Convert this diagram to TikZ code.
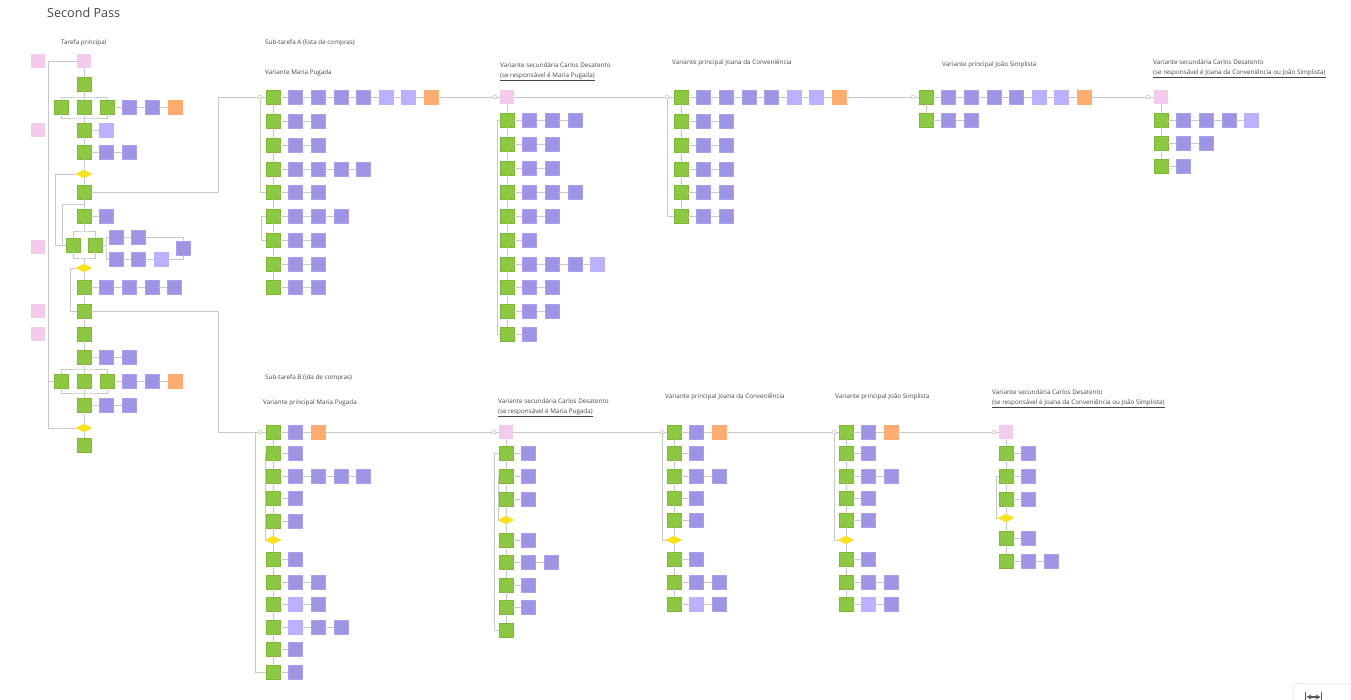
\documentclass[tikz,border=0pt]{standalone}
\usepackage{fontspec}
\setmainfont{Open Sans}
\usetikzlibrary{shapes.geometric}
\definecolor{cg}{RGB}{141,200,66}
\definecolor{cgd}{RGB}{125,185,55}
\definecolor{cp}{RGB}{158,148,228}
\definecolor{cpd}{RGB}{170,160,240}
\definecolor{cl}{RGB}{186,178,255}
\definecolor{co}{RGB}{255,172,112}
\definecolor{ck}{RGB}{244,202,238}
\definecolor{cy}{RGB}{246,226,30}
\definecolor{cline}{RGB}{200,200,200}
\definecolor{ctext}{RGB}{70,70,70}
\newcommand\myrow[4]{%
  \foreach \t [count=\i, remember=\i as \j (initially 0)] in {#4}{%
    \node[\t] (#1-\i) at ({#2+(\i-1)*22.6},#3) {};
    \ifnum\i>1 \draw[conn] (#1-\j) -- (#1-\i);\fi
  }%
}
\begin{document}
\begin{tikzpicture}[x=1pt,y=-1pt,
  bx/.style={rectangle,inner sep=0pt,minimum size=14pt,line width=0.5pt},
  gbx/.style={bx,fill=cg,draw=cgd},
  pbx/.style={bx,fill=cp,draw=cpd},
  lbx/.style={bx,fill=cl,draw=cl},
  obx/.style={bx,fill=co,draw=co},
  kbx/.style={bx,minimum size=13pt,fill=ck,draw=ck},
  dbx/.style={diamond,aspect=2,inner sep=0pt,minimum width=16pt,minimum height=8pt,fill=cy,draw=cy},
  mk/.style={circle,inner sep=0pt,minimum size=4pt,draw=gray!60,fill=white,line width=0.4pt},
  conn/.style={draw=cline,line width=0.6pt},
  lbl/.style={anchor=west,inner sep=0pt,text=ctext,font=\fontsize{6.3}{8}\selectfont},
  lbl2/.style={anchor=west,inner sep=0pt,text=ctext,align=left,font=\fontsize{6.3}{9.8}\selectfont}]
\useasboundingbox[fill=white] (0,0) rectangle (1351,700);

% ---------------- titles ----------------
\node[anchor=west,inner sep=0pt,text=ctext,font=\fontsize{12.6}{14}\selectfont] (title) at (47,13) {Second Pass};
\node[lbl] (tp) at (61,43) {Tarefa principal};
\node[lbl] (tsa) at (265,43) {Sub-tarefa A (lista de compras)};
\node[lbl] (ta1) at (265,73) {Variante Maria Pugada};
\node[lbl2] (ta2) at (500,72) {Variante secundária Carlos Desatento\\\underline{(se responsável é Maria Pugada)}};
\node[lbl] (ta3) at (672,63) {Variante principal Joana da Conveniência};
\node[lbl] (ta4) at (942,65) {Variante principal João Simplista};
\node[lbl2] (ta5) at (1153,69) {Variante secundária Carlos Desatento\\\underline{(se responsável é Joana da Conveniência ou João Simplista)}};
\node[lbl] (tsb) at (265,378) {Sub-tarefa B (ida de compras)};
\node[lbl] (tb1) at (263,403) {Variante principal Maria Pugada};
\node[lbl2] (tb2) at (498,408) {Variante secundária Carlos Desatento\\\underline{(se responsável é Maria Pugada)}};
\node[lbl] (tb3) at (665,397) {Variante principal Joana da Conveniência};
\node[lbl] (tb4) at (835,397) {Variante principal João Simplista};
\node[lbl2] (tb5) at (992,399) {Variante secundária Carlos Desatento\\\underline{(se responsável é Joana da Conveniência ou João Simplista)}};

% ---------------- main task ----------------
\foreach \yy [count=\n] in {61,130,247,311,334}{\node[kbx] (s\n) at (38,\yy) {};}
\node[kbx] (m1) at (84,61) {};
\myrow{m2}{84}{84}{gbx}
\node[gbx] (m3a) at (61,107) {};
\node[gbx] (m3b) at (84,107) {};
\myrow{m3}{107}{107}{gbx,pbx,pbx,obx}
\myrow{m4}{84}{130}{gbx,lbx}
\myrow{m5}{84}{152}{gbx,pbx,pbx}
\node[dbx] (md1) at (84,174) {};
\myrow{m6}{84}{192}{gbx}
\myrow{m7}{84}{216}{gbx,pbx}
\node[gbx] (m8a) at (73,245) {};
\node[gbx] (m8b) at (95,245) {};
\node[pbx] (q1) at (116,237) {};
\node[pbx] (q2) at (138,237) {};
\node[pbx] (q3) at (116,259) {};
\node[pbx] (q4) at (138,259) {};
\node[lbx] (q5) at (161,259) {};
\node[pbx] (q6) at (183,248) {};
\node[dbx] (md2) at (84,268) {};
\myrow{m9}{84}{287}{gbx,pbx,pbx,pbx,pbx}
\myrow{m10}{84}{311}{gbx}
\myrow{m11}{84}{334}{gbx}
\myrow{m12}{84}{357}{gbx,pbx,pbx}
\node[gbx] (m13a) at (61,381) {};
\node[gbx] (m13b) at (84,381) {};
\myrow{m13}{107}{381}{gbx,pbx,pbx,obx}
\myrow{m14}{84}{405}{gbx,pbx,pbx}
\node[dbx] (md3) at (84,428) {};
\myrow{m15}{84}{445}{gbx}

\coordinate (f1) at (84,97);
\coordinate (f2) at (84,118);
\coordinate (f3) at (84,231);
\coordinate (f4) at (84,258);
\coordinate (f5) at (106,245);
\coordinate (f6) at (84,369);
\coordinate (f7) at (84,393);
\draw[conn] (m1) -- (m2-1) -- (f1);
\draw[conn] (m3a.north) |- (f1) -| (m3-1.north);
\draw[conn] (f1) -- (m3b);
\draw[conn] (m3a.south) |- (f2) -| (m3-1.south);
\draw[conn] (m3b) -- (m4-1) -- (m5-1) -- (md1) -- (m6-1) -- (m7-1) -- (f3);
\draw[conn] (m8a.north) |- (f3) -| (m8b.north);
\draw[conn] (m8a.south) |- (f4) -| (m8b.south);
\draw[conn] (f4) -- (md2) -- (m9-1) -- (m10-1) -- (m11-1) -- (m12-1) -- (f6);
\draw[conn] (m8b) -- (f5);
\draw[conn] (q1) -| (f5) |- (q3);
\draw[conn] (q1) -- (q2);
\draw[conn] (q3) -- (q4) -- (q5);
\draw[conn] (q2) -| (q6);
\draw[conn] (q5) -| (q6);
\draw[conn] (m13a.north) |- (f6) -| (m13-1.north);
\draw[conn] (f6) -- (m13b);
\draw[conn] (m13a.south) |- (f7) -| (m13-1.south);
\draw[conn] (m13b) -- (m14-1) -- (md3) -- (m15-1);
% loops
\draw[conn] (md1) -- (55,174) |- (m8a);
\draw[conn] (84,204) -- (62,204) |- (m8a);
\draw[conn] (md2) -- (70,268) |- (m10-1);
\draw[conn] (m1) -- (48,61) |- (m13a);
\draw[conn] (48,381) |- (md3);

% ---------------- Sub-tarefa A ----------------
\node[mk] (ma1) at (260,97) {};
\myrow{a1r1}{273}{97}{gbx,pbx,pbx,pbx,pbx,lbx,lbx,obx}
\myrow{a1r2}{273}{121}{gbx,pbx,pbx}
\myrow{a1r3}{273}{145}{gbx,pbx,pbx}
\myrow{a1r4}{273}{169}{gbx,pbx,pbx,pbx,pbx}
\myrow{a1r5}{273}{192}{gbx,pbx,pbx}
\myrow{a1r6}{273}{216}{gbx,pbx,pbx,pbx}
\myrow{a1r7}{273}{240}{gbx,pbx,pbx}
\myrow{a1r8}{273}{264}{gbx,pbx,pbx}
\myrow{a1r9}{273}{287}{gbx,pbx,pbx}
\draw[conn] (a1r1-1) -- (a1r2-1) -- (a1r3-1) -- (a1r4-1) -- (a1r5-1) -- (a1r6-1) -- (a1r7-1) -- (a1r8-1) -- (a1r9-1);
\draw[conn] (ma1) |- (a1r5-1);
\draw[conn] (a1r6-1) -- (261,216) |- (a1r7-1);

\node[mk] (ma2) at (495,97) {};
\node[kbx] (a2k) at (507,97) {};
\myrow{a2r1}{507}{120}{gbx,pbx,pbx,pbx}
\myrow{a2r2}{507}{144}{gbx,pbx,pbx}
\myrow{a2r3}{507}{168}{gbx,pbx,pbx}
\myrow{a2r4}{507}{192}{gbx,pbx,pbx,pbx}
\myrow{a2r5}{507}{216}{gbx,pbx,pbx}
\myrow{a2r6}{507}{240}{gbx,pbx}
\myrow{a2r7}{507}{264}{gbx,pbx,pbx,pbx,lbx}
\myrow{a2r8}{507}{287}{gbx,pbx,pbx}
\myrow{a2r9}{507}{311}{gbx,pbx,pbx}
\myrow{a2r10}{507}{334}{gbx,pbx}
\draw[conn] (a2k) -- (a2r1-1) -- (a2r2-1) -- (a2r3-1) -- (a2r4-1) -- (a2r5-1) -- (a2r6-1) -- (a2r7-1) -- (a2r8-1) -- (a2r9-1) -- (a2r10-1);
\draw[conn] (a2r1-1) -- (497,120) |- (a2r10-1);

\node[mk] (ma3) at (667,97) {};
\myrow{a3r1}{681}{97}{gbx,pbx,pbx,pbx,pbx,lbx,lbx,obx}
\myrow{a3r2}{681}{121}{gbx,pbx,pbx}
\myrow{a3r3}{681}{145}{gbx,pbx,pbx}
\myrow{a3r4}{681}{169}{gbx,pbx,pbx}
\myrow{a3r5}{681}{192}{gbx,pbx,pbx}
\myrow{a3r6}{681}{216}{gbx,pbx,pbx}
\draw[conn] (a3r1-1) -- (a3r2-1) -- (a3r3-1) -- (a3r4-1) -- (a3r5-1) -- (a3r6-1);
\draw[conn] (ma3) |- (a3r6-1);

\node[mk] (ma4) at (913,97) {};
\myrow{a4r1}{926}{97}{gbx,pbx,pbx,pbx,pbx,lbx,lbx,obx}
\myrow{a4r2}{926}{120}{gbx,pbx,pbx}
\draw[conn] (a4r1-1) -- (a4r2-1);

\node[mk] (ma5) at (1148,97) {};
\node[kbx] (a5k) at (1161,97) {};
\myrow{a5r1}{1161}{120}{gbx,pbx,pbx,pbx,lbx}
\myrow{a5r2}{1161}{143}{gbx,pbx,pbx}
\myrow{a5r3}{1161}{166}{gbx,pbx}
\draw[conn] (a5k) -- (a5r1-1) -- (a5r2-1) -- (a5r3-1);

\draw[conn] (m6-1) -- (218,192) |- (ma1);
\draw[conn] (ma1) -- (a1r1-1);
\draw[conn] (a1r1-8) -- (ma2) -- (a2k) -- (ma3) -- (a3r1-1);
\draw[conn] (a3r1-8) -- (ma4) -- (a4r1-1);
\draw[conn] (a4r1-8) -- (ma5) -- (a5k);

% ---------------- Sub-tarefa B ----------------
\node[mk] (mb1) at (260,432) {};
\myrow{b1r1}{273}{432}{gbx,pbx,obx}
\myrow{b1r2}{273}{453}{gbx,pbx}
\myrow{b1r3}{273}{476}{gbx,pbx,pbx,pbx,pbx}
\myrow{b1r4}{273}{498}{gbx,pbx}
\myrow{b1r5}{273}{521}{gbx,pbx}
\node[dbx] (bd1) at (273,540) {};
\myrow{b1r6}{273}{559}{gbx,pbx}
\myrow{b1r7}{273}{582}{gbx,pbx,pbx}
\myrow{b1r8}{273}{604}{gbx,lbx,pbx}
\myrow{b1r9}{273}{627}{gbx,lbx,pbx,pbx}
\myrow{b1r10}{273}{649}{gbx,pbx}
\myrow{b1r11}{273}{672}{gbx,pbx}
\draw[conn] (b1r1-1) -- (b1r2-1) -- (b1r3-1) -- (b1r4-1) -- (b1r5-1) -- (bd1) -- (b1r6-1) -- (b1r7-1) -- (b1r8-1) -- (b1r9-1) -- (b1r10-1) -- (b1r11-1);
\draw[conn] (mb1) -- (255,432) |- (b1r11-1);
\draw[conn] (b1r2-1) -- (265,453) |- (bd1);

\node[mk] (mb2) at (494,432) {};
\node[kbx] (b2k) at (506,432) {};
\myrow{b2r1}{506}{453}{gbx,pbx}
\myrow{b2r2}{506}{476}{gbx,pbx}
\myrow{b2r3}{506}{499}{gbx,pbx}
\node[dbx] (bd2) at (506,520) {};
\myrow{b2r4}{506}{540}{gbx,pbx}
\myrow{b2r5}{506}{562}{gbx,pbx,pbx}
\myrow{b2r6}{506}{585}{gbx,pbx}
\myrow{b2r7}{506}{607}{gbx,pbx}
\myrow{b2r8}{506}{630}{gbx}
\draw[conn] (b2k) -- (b2r1-1) -- (b2r2-1) -- (b2r3-1) -- (bd2) -- (b2r4-1) -- (b2r5-1) -- (b2r6-1) -- (b2r7-1) -- (b2r8-1);
\draw[conn] (b2r1-1) -- (494,453) |- (b2r8-1);
\draw[conn] (b2r2-1) -- (498,476) |- (bd2);

\node[mk] (mb3) at (662,432) {};
\myrow{b3r1}{674}{432}{gbx,pbx,obx}
\myrow{b3r2}{674}{453}{gbx,pbx}
\myrow{b3r3}{674}{476}{gbx,pbx,pbx}
\myrow{b3r4}{674}{498}{gbx,pbx}
\myrow{b3r5}{674}{520}{gbx,pbx}
\node[dbx] (bd3) at (674,540) {};
\myrow{b3r6}{674}{559}{gbx,pbx}
\myrow{b3r7}{674}{582}{gbx,pbx,pbx}
\myrow{b3r8}{674}{604}{gbx,lbx,pbx}
\draw[conn] (b3r1-1) -- (b3r2-1) -- (b3r3-1) -- (b3r4-1) -- (b3r5-1) -- (bd3) -- (b3r6-1) -- (b3r7-1) -- (b3r8-1);
\draw[conn] (mb3) |- (bd3);

\node[mk] (mb4) at (834,432) {};
\myrow{b4r1}{846}{432}{gbx,pbx,obx}
\myrow{b4r2}{846}{453}{gbx,pbx}
\myrow{b4r3}{846}{476}{gbx,pbx,pbx}
\myrow{b4r4}{846}{498}{gbx,pbx}
\myrow{b4r5}{846}{520}{gbx,pbx}
\node[dbx] (bd4) at (846,540) {};
\myrow{b4r6}{846}{559}{gbx,pbx}
\myrow{b4r7}{846}{582}{gbx,pbx,pbx}
\myrow{b4r8}{846}{604}{gbx,lbx,pbx}
\draw[conn] (b4r1-1) -- (b4r2-1) -- (b4r3-1) -- (b4r4-1) -- (b4r5-1) -- (bd4) -- (b4r6-1) -- (b4r7-1) -- (b4r8-1);
\draw[conn] (mb4) |- (bd4);

\node[mk] (mb5) at (994,432) {};
\node[kbx] (b5k) at (1006,432) {};
\myrow{b5r1}{1006}{453}{gbx,pbx}
\myrow{b5r2}{1006}{476}{gbx,pbx}
\myrow{b5r3}{1006}{499}{gbx,pbx}
\node[dbx] (bd5) at (1006,518) {};
\myrow{b5r4}{1006}{538}{gbx,pbx}
\myrow{b5r5}{1006}{561}{gbx,pbx,pbx}
\draw[conn] (b5k) -- (b5r1-1) -- (b5r2-1) -- (b5r3-1) -- (bd5) -- (b5r4-1) -- (b5r5-1);
\draw[conn] (b5r2-1) -- (996,476) |- (bd5);

\draw[conn] (m10-1) -- (218,311) |- (mb1);
\draw[conn] (mb1) -- (b1r1-1);
\draw[conn] (b1r1-3) -- (mb2) -- (b2k) -- (mb3) -- (b3r1-1);
\draw[conn] (b3r1-3) -- (mb4) -- (b4r1-1);
\draw[conn] (b4r1-3) -- (mb5) -- (b5k);

% ---------------- corner control ----------------
\node[draw=gray!35,fill=white,rounded corners=4pt,minimum width=70pt,minimum height=30pt,anchor=north west] (ctrl) at (1293,683) {};
\draw[|<->|,>=stealth,line width=1.3pt,draw=gray!70!black] (1305,697) -- (1322,697);
\end{tikzpicture}
\end{document}
